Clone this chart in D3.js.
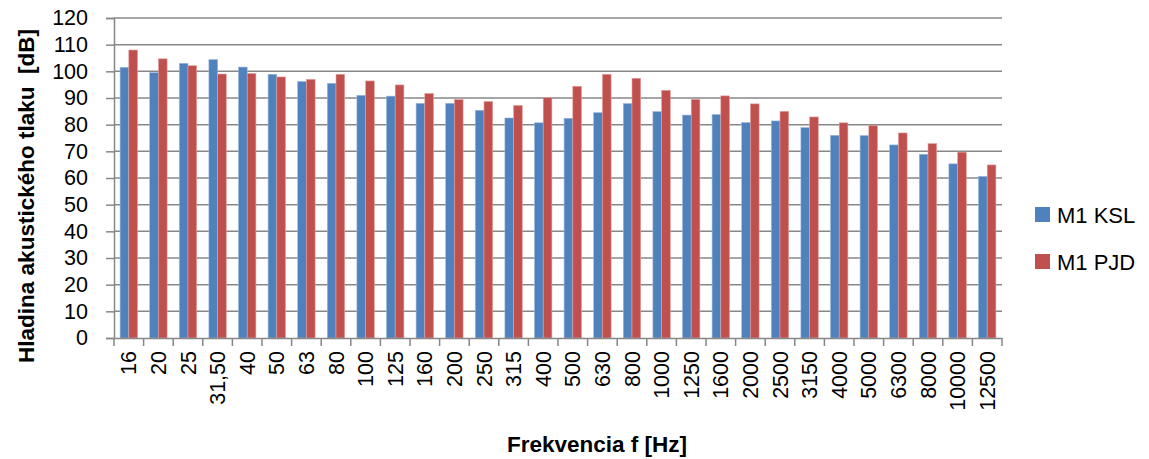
<!DOCTYPE html>
<html>
<head>
<meta charset="utf-8">
<script src="https://cdn.jsdelivr.net/npm/d3@7"></script>
<style>
  html, body { margin: 0; padding: 0; background: #fff; }
  svg { display: block; font-family: "Liberation Sans", Arial, sans-serif; }
</style>
</head>
<body>
<svg id="chart" width="1149" height="459"></svg>
<script>
const categories = ["16","20","25","31,50","40","50","63","80","100","125","160","200","250","315","400","500","630","800","1000","1250","1600","2000","2500","3150","4000","5000","6300","8000","10000","12500"];
const seriesNames = ["M1 KSL", "M1 PJD"];
const ksl = [101.5,99.5,103,104.4,101.6,98.9,96.2,95.5,91,90.7,88,88,85.4,82.5,80.7,82.4,84.5,87.9,84.9,83.6,83.8,80.8,81.4,78.9,76,75.9,72.4,68.9,65.3,60.6];
const pjd = [108,104.7,102.1,99,99.2,97.9,97,98.9,96.4,94.9,91.7,89.4,88.7,87.2,90.1,94.4,98.9,97.4,92.9,89.5,90.8,87.8,85,82.9,80.7,79.7,76.9,72.9,69.7,64.9];
const yTicks = [0,10,20,30,40,50,60,70,80,90,100,110,120];
const colors = ["#4F81BD", "#C0504D"];
const strokes = ["#9BB7DE", "#E3A3A1"];

(function () {
const svg = d3.select("#chart");
const pLeft = 114, pRight = 1002, pTop = 18, pBottom = 338;
const tickFont = 21.5;

const x = d3.scaleBand().domain(categories).range([pLeft, pRight]).padding(0);
const x1 = d3.scaleBand().domain(seriesNames).range([0, x.bandwidth()]).paddingInner(0).paddingOuter(0.7);
const y = d3.scaleLinear().domain([0, 120]).range([pBottom, pTop]);

// gridlines
svg.append("g").selectAll("line").data(yTicks.filter(d => d > 0)).join("line")
  .attr("x1", pLeft).attr("x2", pRight)
  .attr("y1", d => y(d)).attr("y2", d => y(d))
  .attr("stroke", "#878787").attr("stroke-width", 1.5);

// bars
const data = categories.map((c, i) => ({c, vals: [ksl[i], pjd[i]]}));
const groups = svg.append("g").selectAll("g").data(data).join("g")
  .attr("transform", d => `translate(${x(d.c)},0)`);
groups.selectAll("rect").data(d => d.vals.map((v, j) => ({v, j}))).join("rect")
  .attr("x", d => x1(seriesNames[d.j]))
  .attr("width", x1.bandwidth())
  .attr("y", d => y(d.v))
  .attr("height", d => y(0) - y(d.v))
  .attr("fill", d => colors[d.j])
  .attr("stroke", d => strokes[d.j]).attr("stroke-width", 0.6);

// y axis
const yAxis = d3.axisLeft(y).tickValues(yTicks).tickSize(8).tickPadding(18).tickFormat(d3.format("d"));
const gy = svg.append("g").attr("transform", `translate(${pLeft},0)`).call(yAxis);
gy.select(".domain").attr("stroke", "#878787").attr("stroke-width", 1.5);
gy.selectAll(".tick line").attr("stroke", "#878787").attr("stroke-width", 1.5);
gy.selectAll(".tick text").attr("font-size", tickFont).attr("fill", "#000").attr("font-family", "Liberation Sans, Arial, sans-serif");

// x axis
const xAxis = d3.axisBottom(x).tickSize(0).tickPadding(0);
const gx = svg.append("g").attr("transform", `translate(0,${pBottom})`).call(xAxis);
gx.select(".domain").attr("stroke", "#878787").attr("stroke-width", 1.5);
gx.selectAll(".tick text")
  .attr("font-size", tickFont).attr("fill", "#000").attr("font-family", "Liberation Sans, Arial, sans-serif")
  .attr("text-anchor", "end")
  .attr("transform", "translate(0,13) rotate(-90)")
  .attr("dy", "0.35em").attr("dx", 0).attr("x", 0).attr("y", 0);
// tick marks at band boundaries
const bounds = categories.map(c => x(c)).concat([x(categories[categories.length - 1]) + x.step()]);
svg.append("g").selectAll("line").data(bounds).join("line")
  .attr("x1", d => d).attr("x2", d => d)
  .attr("y1", pBottom).attr("y2", pBottom + 8)
  .attr("stroke", "#878787").attr("stroke-width", 1.5);

// axis titles
svg.append("text").attr("x", 597).attr("y", 452).attr("text-anchor", "middle")
  .attr("font-size", 22.5).attr("font-weight", "bold").text("Frekvencia f [Hz]");
svg.append("text").attr("transform", "translate(34,196) rotate(-90)").attr("text-anchor", "middle")
  .attr("font-size", 22.5).attr("font-weight", "bold").attr("xml:space", "preserve")
  .text("Hladina akustického tlaku  [dB]");

// legend
const lg = svg.append("g").selectAll("g").data(seriesNames).join("g")
  .attr("transform", (d, i) => `translate(1035,${207 + i * 47})`);
lg.append("rect").attr("width", 15).attr("height", 15).attr("fill", (d, i) => colors[i]);
lg.append("text").attr("x", 22).attr("y", 15.5).attr("font-size", 22).text(d => d);
})();
</script>
</body>
</html>
